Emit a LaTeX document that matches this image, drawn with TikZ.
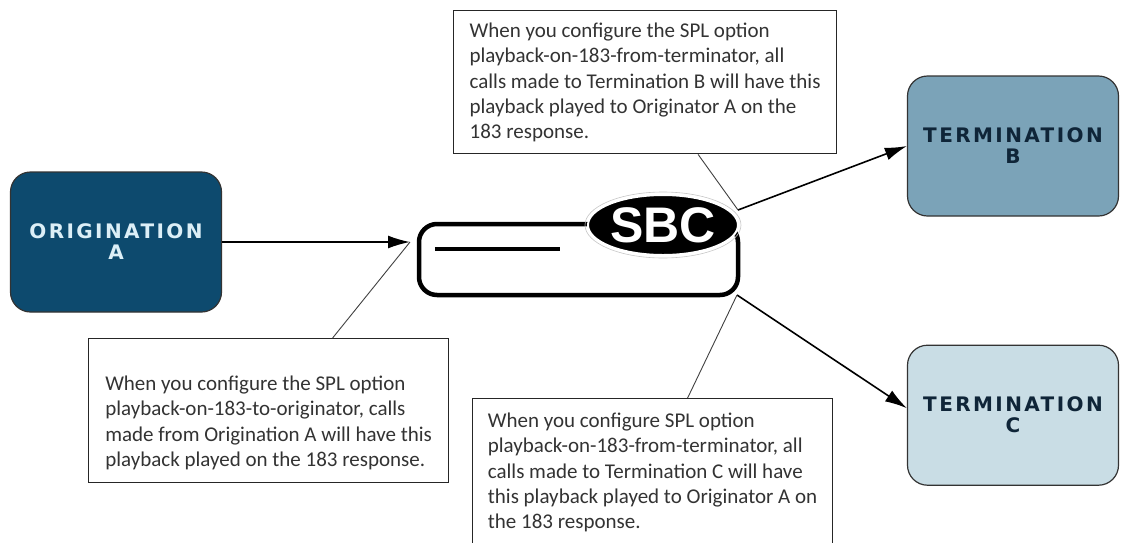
\documentclass[tikz,border=0pt]{standalone}
\usepackage{fontspec}
\setmainfont{Carlito}
\newfontfamily\boxfont[LetterSpace=12]{DejaVu Sans}
\newfontfamily\logofont{Liberation Sans}
\usetikzlibrary{arrows.meta,positioning,shapes.geometric}
\definecolor{orignavy}{HTML}{0D4A6E}
\definecolor{origtext}{HTML}{DCEFF7}
\definecolor{termmid}{HTML}{7BA3B8}
\definecolor{termpale}{HTML}{C9DDE5}
\definecolor{termtext}{HTML}{0F2538}
\definecolor{notetext}{HTML}{333333}
\newcommand{\gapabove}[1]{\rule{0pt}{#1pt}}
\newcommand{\gapbelow}[1]{\rule[-#1pt]{0pt}{#1pt}}

\begin{document}
\begin{tikzpicture}[x=1pt,y=-1pt,
  endpoint/.style={rounded corners=20pt,draw=black!80,line width=1.2pt,minimum width=211pt,minimum height=140pt,align=center,font=\boxfont\bfseries\fontsize{20}{21}\selectfont},
  origin/.style={endpoint,fill=orignavy,text=origtext},
  term/.style={endpoint,text=termtext},
  device/.style={draw=black,line width=4.5pt,rounded corners=18pt,minimum width=319pt,minimum height=71pt,inner sep=0pt},
  logo/.style={ellipse,fill=black,draw=white,line width=2pt,minimum width=150pt,minimum height=60pt,inner sep=0pt,text=white,font=\logofont\bfseries\fontsize{50}{50}\selectfont},
  note/.style={draw=black!85,line width=1.2pt,fill=white,anchor=north west,align=left,inner sep=0pt,minimum width=360pt,text=notetext,font=\fontsize{21}{25.3}\selectfont},
  arr/.style={-{Latex[length=22pt,width=13pt]},line width=1.6pt},
  lead/.style={draw=black!75,line width=0.9pt}
]
\useasboundingbox (0,0) rectangle (1122,542);

\node[origin] (orig) at (116,242) {ORIGINATION\\A};
\node[term,fill=termmid] (termb) at (1013,146) {TERMINATION\\B};
\node[term,fill=termpale,below=128pt of termb] (termc) {TERMINATION\\C};

% SBC device
\node[device] (sbc) at (578.5,259.5) {};
\draw[line width=4pt] ([shift={(18pt,-27pt)}]sbc.north west) -- ++(125,0);
\draw[gray!45,line width=0.6pt] (663,225) ellipse [x radius=78pt,y radius=33pt];
\node[logo] (logo) at (663,225) {SBC};

\coordinate (sbcin) at (410,242);
\coordinate (sbcup) at (738,210);
\coordinate (sbcdown) at (737,295);

\draw[arr] (orig.east) -- (sbcin);
\draw[arr] (sbcup) -- (termb.west);
\draw[arr] (sbcdown) -- ([yshift=7pt]termc.west);

\node[note,minimum width=383pt] (topnote) at (453,10) {\gapabove{27}When you configure the SPL option\\
playback-on-183-from-terminator, all\\
calls made to Termination B will have this\\
playback played to Originator A on the\\
183 response.\gapbelow{15}};
\node[note] (leftnote) at (88,338) {\gapabove{52}When you configure the SPL option\\
playback-on-183-to-originator, calls\\
made from Origination A will have this\\
playback played on the 183 response.\gapbelow{16}};
\node[note] (botnote) at (472,398) {\gapabove{29}When you configure SPL option\\
playback-on-183-from-terminator, all\\
calls made to Termination C will have\\
this playback played to Originator A on\\
the 183 response.\gapbelow{30}};

\draw[lead] ([xshift=53pt]topnote.south) -- (sbcup);
\draw[lead] ([xshift=64pt]leftnote.north) -- (sbcin);
\draw[lead] ([xshift=35pt]botnote.north) -- (sbcdown);
\end{tikzpicture}
\end{document}
